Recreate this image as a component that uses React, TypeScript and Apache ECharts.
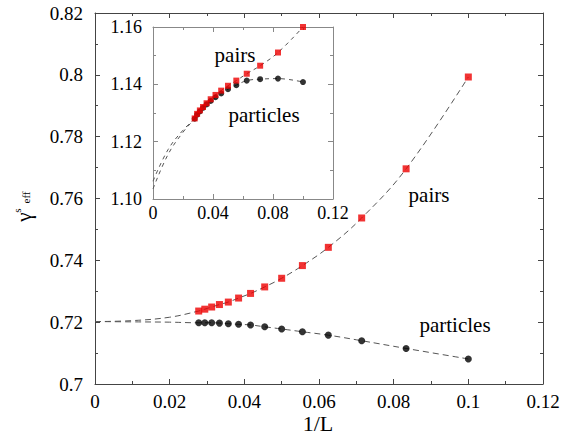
import React, { useEffect, useRef } from "react";
import * as echarts from "echarts";

// System sizes L (x axis is 1/L)
const sizes = [10, 12, 14, 16, 18, 20, 22, 24, 26, 28, 30, 32, 34, 36];

// Main panel values (per L above)
const mainPairs = [0.7993, 0.7696, 0.7537, 0.7442, 0.7383, 0.7342, 0.7314, 0.7293, 0.7278, 0.7265, 0.7257, 0.7249, 0.7242, 0.7236];
const mainParticles = [0.7081, 0.7115, 0.714, 0.7158, 0.7169, 0.7178, 0.7185, 0.7191, 0.7193, 0.7195, 0.7197, 0.7198, 0.7198, 0.7198];

// Extrapolation part of fitted curves (x, y)
const mainPairsFitHead = [[0, 0.7202], [0.01, 0.7205], [0.02, 0.7216]];
const mainParticlesFitHead = [[0, 0.7202], [0.01, 0.7201], [0.02, 0.72]];

// Inset values (per L above)
const insetPairs = [1.16, 1.1511, 1.1465, 1.1437, 1.1413, 1.1395, 1.1378, 1.1363, 1.1348, 1.1334, 1.1321, 1.1309, 1.1297, 1.1281];
const insetParticles = [1.1408, 1.142, 1.1418, 1.1413, 1.1397, 1.1383, 1.1368, 1.1355, 1.1342, 1.133, 1.1318, 1.1306, 1.1294, 1.128];
const insetPairsFitHead = [[0, 1.1035], [0.01, 1.1155], [0.02, 1.1233]];
const insetParticlesFitHead = [[0, 1.1062], [0.01, 1.1172], [0.02, 1.1240]];

const mainXTicks = ["0", "0.02", "0.04", "0.06", "0.08", "0.1", "0.12"];
const insetYTicks = ["1.10", "1.12", "1.14", "1.16"];

const FONT = "'Liberation Serif', 'DejaVu Serif', 'Times New Roman', serif";

function pts(vals: number[]) {
  return sizes.map((L, i) => [1 / L, vals[i]]).sort((a, b) => a[0] - b[0]);
}

export default function App() {
  const ref = useRef<HTMLDivElement>(null);
  useEffect(() => {
    const chart = echarts.init(ref.current!, null, { renderer: "svg" });
    const axisColor = "#444";
    const insetColor = "#888";
    const mkX = (grid: number, pos: string, min: number, max: number, interval: number, labels: boolean, color: string, fs: number, margin: number) => ({
      type: "value",
      gridIndex: grid,
      position: pos,
      min,
      max,
      interval,
      axisLine: { show: true, onZero: false, lineStyle: { color, width: 1 } },
      axisTick: { show: true, inside: true, length: 5, lineStyle: { color } },
      minorTick: { show: true, splitNumber: 2, length: 3, lineStyle: { color } },
      splitLine: { show: false },
      axisLabel: labels
        ? { show: true, fontFamily: FONT, fontSize: fs, color: "#000", margin, formatter: (v: number) => (grid === 0 ? mainXTicks[Math.round(v / interval)] : String(+v.toFixed(2))) }
        : { show: false },
    });
    const mkY = (grid: number, pos: string, min: number, max: number, interval: number, labels: boolean, color: string, fs: number, margin: number) => ({
      type: "value",
      gridIndex: grid,
      position: pos,
      min,
      max,
      interval,
      axisLine: { show: true, onZero: false, lineStyle: { color, width: 1 } },
      axisTick: { show: true, inside: true, length: 5, lineStyle: { color } },
      minorTick: { show: true, splitNumber: 2, length: 3, lineStyle: { color } },
      splitLine: { show: false },
      axisLabel: labels
        ? { show: true, fontFamily: FONT, fontSize: fs, color: "#000", margin, formatter: (v: number) => (grid === 1 ? insetYTicks[Math.round((v - 1.1) / interval)] : String(+v.toFixed(2))) }
        : { show: false },
    });
    const dash = { color: "#555", width: 1, type: [6, 4] as any };
    const txt = (x: number, y: number, text: string, size: number, z = 10, rotation = 0) => ({
      type: "text",
      x,
      y,
      rotation,
      z,
      style: { text, fontFamily: FONT, fontSize: size, fill: "#000", align: "center", verticalAlign: "middle" },
    });
    chart.setOption({
      animation: false,
      backgroundColor: "#fff",
      grid: [
        { left: 95, top: 13, width: 448, height: 371, containLabel: false },
        { left: 153, top: 27, width: 180, height: 172, show: true, backgroundColor: "#fff", borderWidth: 0, z: 5 },
      ],
      xAxis: [
        mkX(0, "bottom", 0, 0.12, 0.02, true, axisColor, 19, 8),
        mkX(0, "top", 0, 0.12, 0.02, false, axisColor, 19, 8),
        { ...mkX(1, "bottom", 0, 0.12, 0.04, true, insetColor, 18, 5), z: 6 },
        { ...mkX(1, "top", 0, 0.12, 0.04, false, insetColor, 18, 5), z: 6 },
      ],
      yAxis: [
        mkY(0, "left", 0.7, 0.82, 0.02, true, axisColor, 19, 12),
        mkY(0, "right", 0.7, 0.82, 0.02, false, axisColor, 19, 12),
        { ...mkY(1, "left", 1.1, 1.16, 0.02, true, insetColor, 18, 11), z: 6 },
        { ...mkY(1, "right", 1.1, 1.16, 0.02, false, insetColor, 18, 11), z: 6 },
      ],
      series: [
        { type: "line", xAxisIndex: 0, yAxisIndex: 0, data: [...mainPairsFitHead, ...pts(mainPairs)], smooth: 0.4, showSymbol: false, lineStyle: dash, z: 2 },
        { type: "line", xAxisIndex: 0, yAxisIndex: 0, data: [...mainParticlesFitHead, ...pts(mainParticles)], smooth: 0.4, showSymbol: false, lineStyle: dash, z: 2 },
        { type: "scatter", xAxisIndex: 0, yAxisIndex: 0, data: pts(mainParticles), symbol: "circle", symbolSize: 7, itemStyle: { color: "#000" }, z: 3 },
        { type: "scatter", xAxisIndex: 0, yAxisIndex: 0, data: pts(mainPairs), symbol: "rect", symbolSize: 7, itemStyle: { color: "#ee0000" }, z: 3 },
        { type: "line", xAxisIndex: 2, yAxisIndex: 2, data: [...insetPairsFitHead, ...pts(insetPairs)], smooth: 0.4, showSymbol: false, lineStyle: { ...dash, type: [4, 4] }, z: 7 },
        { type: "line", xAxisIndex: 2, yAxisIndex: 2, data: [...insetParticlesFitHead, ...pts(insetParticles)], smooth: 0.4, showSymbol: false, lineStyle: { ...dash, type: [4, 4] }, z: 7 },
        { type: "scatter", xAxisIndex: 2, yAxisIndex: 2, data: pts(insetParticles), symbol: "circle", symbolSize: 6, itemStyle: { color: "#000" }, z: 8 },
        { type: "scatter", xAxisIndex: 2, yAxisIndex: 2, data: pts(insetPairs), symbol: "rect", symbolSize: 6, itemStyle: { color: "#ee0000" }, z: 9 },
      ],
      graphic: [
        txt(318, 423, "1/L", 22),
        txt(429, 195, "pairs", 21),
        txt(455, 325, "particles", 21),
        txt(235, 55, "pairs", 21, 100),
        txt(264, 115, "particles", 21, 100),
        txt(24, 217, "γ", 21, 10, Math.PI / 2),
        txt(16.5, 210.5, "s", 11, 10, Math.PI / 2),
        txt(26, 197.5, "eff", 11, 10, Math.PI / 2),
      ],
    });
    return () => chart.dispose();
  }, []);
  return <div ref={ref} style={{ width: 574, height: 438, position: "absolute", left: 0, top: 0 }} />;
}
